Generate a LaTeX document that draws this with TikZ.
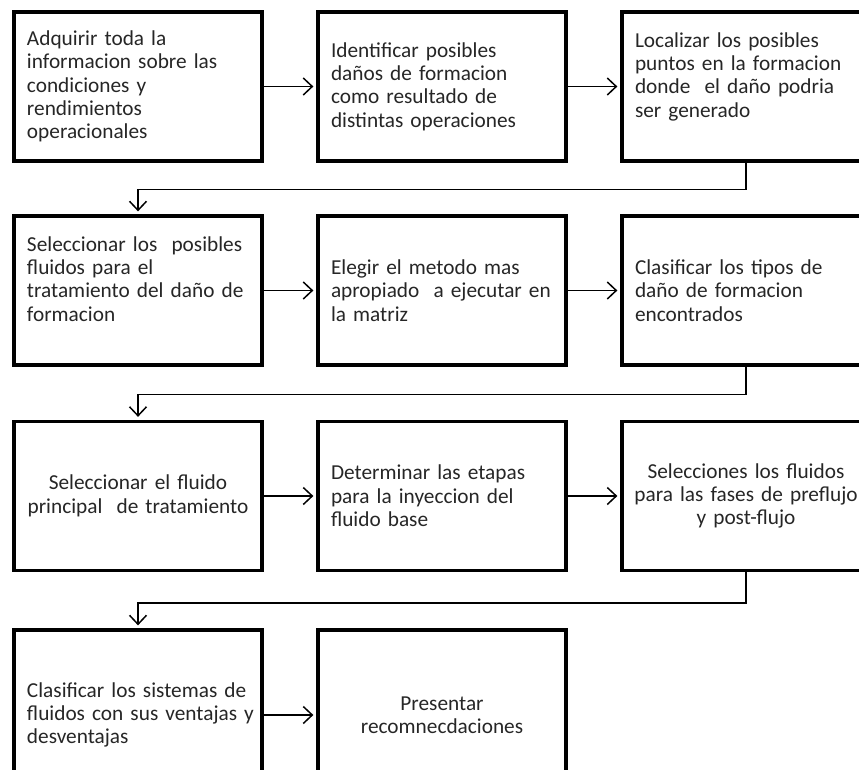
\documentclass[tikz,border=0pt]{standalone}
\usepackage{fontspec}
\setmainfont{Carlito}
\usetikzlibrary{arrows.meta}

\tikzset{
  stepbox/.style={draw=black, line width=3.3pt, rectangle, minimum width=248pt,
    minimum height=149pt, inner xsep=13pt, inner ysep=0pt, text width=222pt,
    align=left, text=black!85, font=\fontsize{21.3}{23.4}\selectfont},
  midbox/.style={stepbox, align=center, inner xsep=4pt, text width=240pt},
  tallbox/.style={minimum height=170pt},
  flow/.style={draw=black, line width=1.5pt,
    -{Straight Barb[length=9pt,width=17pt,line width=1.5pt]}, shorten >=3pt},
}

\begin{document}
\begin{tikzpicture}[x=1pt, y=-1pt]
  \useasboundingbox (0,0) rectangle (859,770);
  \clip (0,0) rectangle (859,770);

  % first row
  \node[stepbox] (a1) at (138,86.5) {Adquirir toda la\\informacion sobre las\\condiciones y\\rendimientos\\operacionales};
  \node[stepbox] (a2) at (442,86.5) {Identificar posibles\\daños de formacion\\como resultado de\\distintas operaciones};
  \node[stepbox] (a3) at (746,86.5) {Localizar los posibles\\puntos en la formacion\\donde~ el daño podria\\ser generado\\\mbox{}};

  % second row
  \node[stepbox] (b1) at (138,290.5) {Seleccionar los~ posibles\\fluidos para el\\tratamiento del daño de\\formacion\\\mbox{}};
  \node[stepbox] (b2) at (442,290.5) {Elegir el metodo mas\\apropiado~ a ejecutar en\\la matriz};
  \node[stepbox] (b3) at (746,290.5) {Clasificar los tipos de\\daño de formacion\\encontrados};

  % third row
  \node[midbox] (c1) at (138,496) {Seleccionar el fluido\\principal~ de tratamiento};
  \node[stepbox] (c2) at (442,496) {Determinar las etapas\\para la inyeccion del\\fluido base};
  \node[midbox] (c3) at (746,496) {Selecciones los fluidos\\para las fases de preflujo\\y post-flujo};

  % fourth row
  \node[stepbox, tallbox] (d1) at (138,715) {Clasificar los sistemas de\\\makebox[222pt][l]{fluidos con sus ventajas y}\\desventajas};
  \node[midbox, tallbox] (d2) at (442,715) {Presentar\\recomnecdaciones};

  % connectors within rows
  \draw[flow] (a1) -- (a2);
  \draw[flow] (a2) -- (a3);
  \draw[flow] (b1) -- (b2);
  \draw[flow] (b2) -- (b3);
  \draw[flow] (c1) -- (c2);
  \draw[flow] (c2) -- (c3);
  \draw[flow] (d1) -- (d2);

  % connectors between rows
  \draw[flow] (a3.south) -- ++(0,27) -| (b1.north);
  \draw[flow] (b3.south) -- ++(0,28) -| (c1.north);
  \draw[flow] (c3.south) -- ++(0,31) -| (d1.north);
\end{tikzpicture}
\end{document}
